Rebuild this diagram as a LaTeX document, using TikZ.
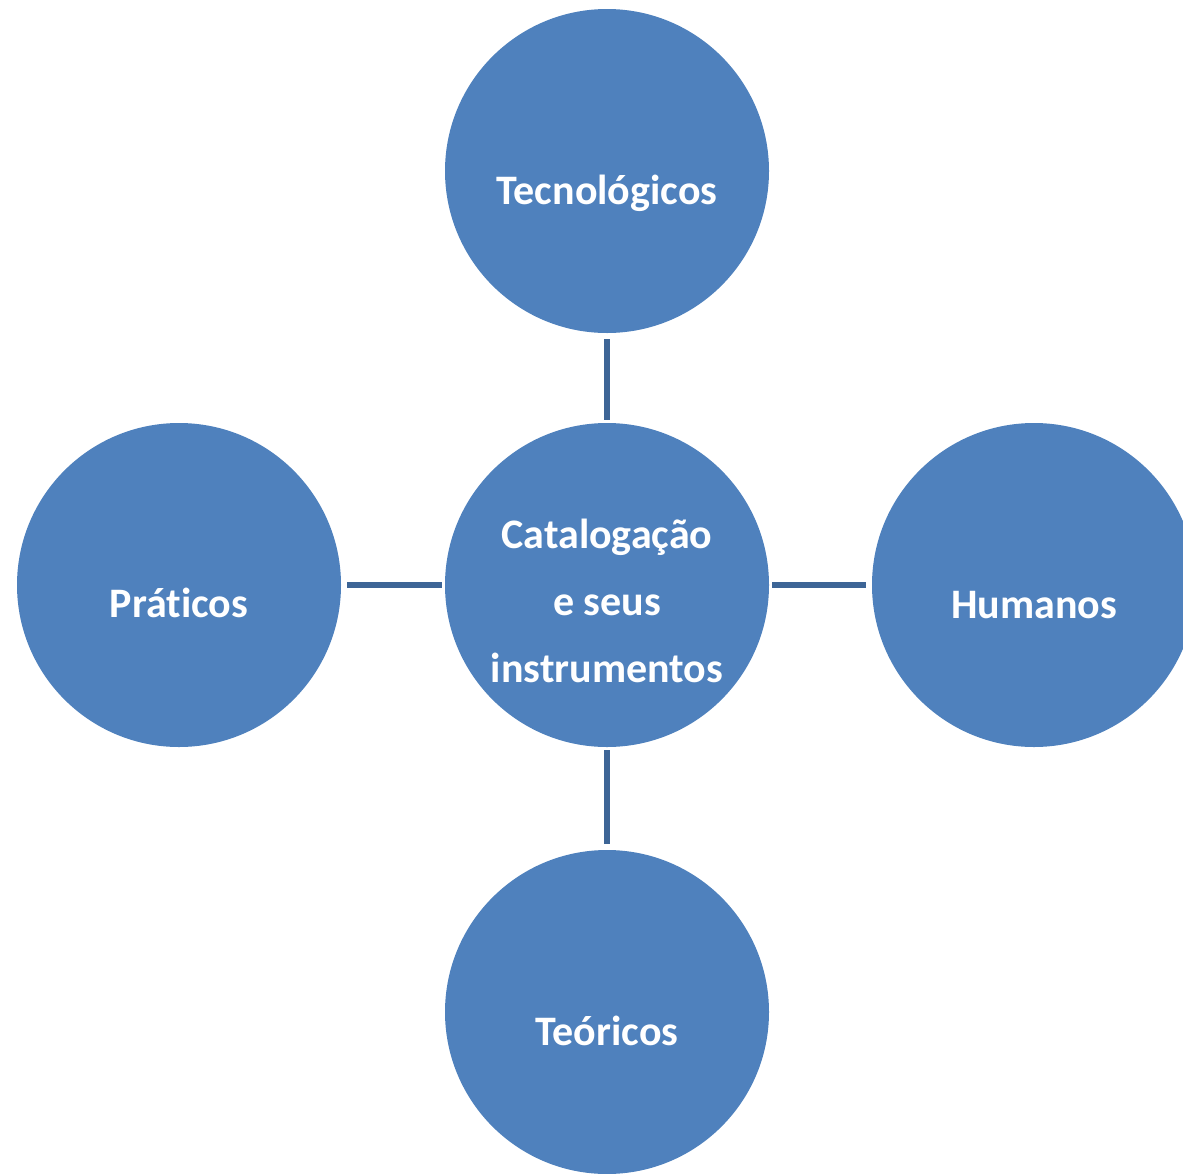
\documentclass[tikz,border=0pt]{standalone}
\usepackage{fontspec}
\setmainfont{Carlito}[Ligatures=NoCommon]
\definecolor{discblue}{HTML}{4F81BD}
\definecolor{linkblue}{HTML}{3D6596}
\begin{document}
\begin{tikzpicture}[x=1pt,y=-1pt,
  disc/.style={circle,fill=discblue,draw=none,minimum size=324pt,inner sep=0pt},
  caption/.style={anchor=base,text=white,font=\fontsize{42}{67}\selectfont\bfseries,inner sep=0pt},
  link/.style={draw=linkblue,line width=6pt,shorten <=3pt,shorten >=5.5pt}]
  \useasboundingbox (0,0) rectangle (1183,1173);
  \clip (0,0) rectangle (1183,1173);
  % five discs
  \node[disc] (hub)   at (607,585)  {};
  \node[disc] (tec)   at (607,171)  {};
  \node[disc] (teo)   at (607,1012) {};
  \node[disc] (pra)   at (179,585)  {};
  \node[disc] (hum)   at (1034,585) {};
  % spokes from the hub
  \draw[link] (hub.north) -- (tec.south);
  \draw[link] (hub.south) -- (teo.north);
  \draw[link] (hub.west)  -- (pra.east);
  \draw[link] (hub.east)  -- (hum.west);
  % captions
  \node[caption] (thub1) at (607,548) {Catalogação};
  \node[caption] (thub2) at (607,615) {e seus};
  \node[caption] (thub3) at (607,682) {instrumentos};
  \node[caption] (ttec)  at (607,204) {Tecnológicos};
  \node[caption] (tteo)  at (607,1045) {Teóricos};
  \node[caption] (tpra)  at (179,617) {Práticos};
  \node[caption] (thum)  at (1034,618) {Humanos};
\end{tikzpicture}
\end{document}
